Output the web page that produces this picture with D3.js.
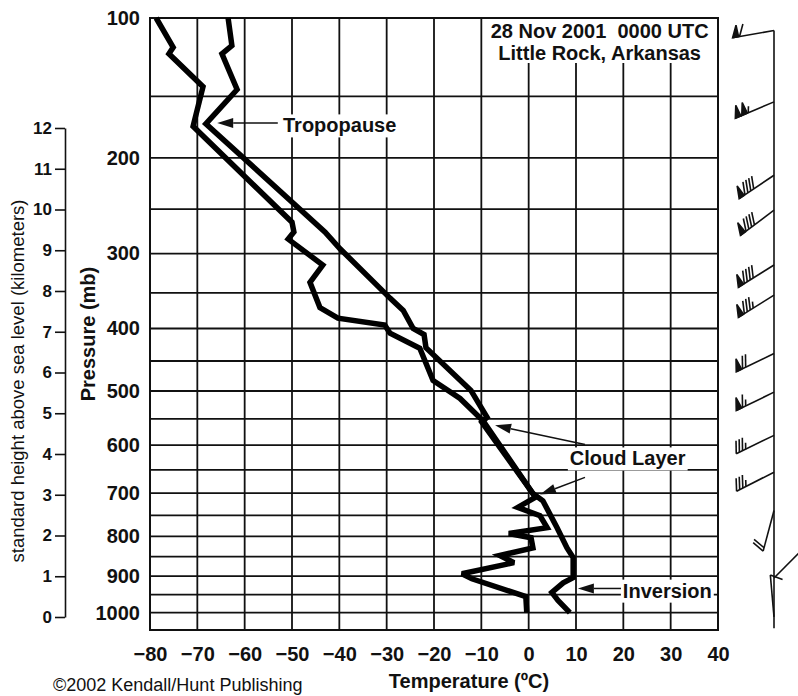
<!DOCTYPE html>
<html>
<head>
<meta charset="utf-8">
<script src="https://cdnjs.cloudflare.com/ajax/libs/d3/7.8.5/d3.min.js"></script>
<style>
  body { margin: 0; background: #fff; }
  svg { display: block; font-family: "Liberation Sans", Arial, Helvetica, sans-serif; }
</style>
</head>
<body>
<svg id="chart" width="798" height="696"></svg>
<script>
// Sounding, Little Rock 28 Nov 2001 00 UTC
const tempP = [100, 116, 121, 145, 171, 275, 294, 357, 374, 400, 409, 429, 499, 547, 556, 701, 717, 779, 828, 852, 904, 918, 944, 966, 1000];
const tempT = [-63.5, -62.7, -64.8, -61.6, -68.2, -43.0, -39.9, -29.3, -26.5, -24.4, -22.1, -21.7, -12.2, -8.8, -9.9, 0.9, 3.0, 6.0, 8.1, 9.4, 9.4, 7.3, 4.9, 6.2, 8.7];

const dewP = [100, 117, 121, 143, 173, 264, 275, 283, 314, 336, 370, 385, 395, 407, 430, 482, 513, 554, 701, 710, 732, 751, 779, 793, 803, 828, 847, 865, 894, 907, 955, 1000];
const dewT = [-78.7, -75.1, -76.0, -68.8, -70.9, -50.0, -49.6, -50.8, -43.5, -46.2, -44.1, -40.3, -30.4, -29.3, -23.0, -20.2, -14.5, -9.6, 0.9, 1.3, -2.3, 2.4, 3.9, -4.2, 0.5, 0.9, -6.1, -3.1, -14.1, -12.0, -0.6, -0.4];

// wind barbs: level (mb), direction (deg), speed (kt)
const windP = [107, 154, 216, 251, 314, 353, 438, 502, 581, 655, 739, 905, 1012];
const windDir = [260, 247, 236, 233, 238, 238, 244, 244, 244, 243, 195, 45, 355];
const windSpd = [60, 105, 90, 90, 90, 85, 70, 65, 35, 35, 20, 10, 10];

// axes
const pressureLabels = [100, 200, 300, 400, 500, 600, 700, 800, 900, 1000];
const pressureGrid = [150, 200, 250, 300, 350, 400, 450, 500, 550, 600, 650, 700, 750, 800, 850, 900, 950, 1000];
const tempTicks = [-80, -70, -60, -50, -40, -30, -20, -10, 0, 10, 20, 30, 40];
const heightTicks = [0, 1, 2, 3, 4, 5, 6, 7, 8, 9, 10, 11, 12];

const svg = d3.select('#chart');
const plotL = 150, plotR = 718, plotT = 18, plotB = 630;

const x = d3.scaleLinear().domain([-80, 40]).range([plotL, plotR]);
const y = d3.scalePow().exponent(0.286).domain([100, 1050]).range([plotT, plotB]);
const h = d3.scaleLinear().domain([0, 12]).range([617, 128]);

const ink = '#111';

// grid
const grid = svg.append('g').attr('stroke', ink).attr('stroke-width', 1.8);
grid.selectAll('.hl').data(pressureGrid).enter().append('line')
    .attr('x1', plotL).attr('x2', plotR)
    .attr('y1', d => y(d)).attr('y2', d => y(d));
grid.selectAll('.vl').data(tempTicks.slice(1, -1)).enter().append('line')
    .attr('x1', d => x(d)).attr('x2', d => x(d))
    .attr('y1', plotT).attr('y2', plotB);
svg.append('rect')
    .attr('x', plotL).attr('y', plotT)
    .attr('width', plotR - plotL).attr('height', plotB - plotT)
    .attr('fill', 'none').attr('stroke', ink).attr('stroke-width', 2);

// pressure labels
const pAxis = d3.axisLeft(y).tickValues(pressureLabels).tickSize(0).tickPadding(10).tickFormat(d3.format('d'));
svg.append('g').attr('transform', `translate(${plotL},0)`).call(pAxis)
    .call(g => g.select('.domain').remove())
    .selectAll('text').attr('font-size', 20).attr('font-weight', 'bold').attr('fill', ink)
    .attr('font-family', '"Liberation Sans", Arial, sans-serif');

// temperature labels
const tAxis = d3.axisBottom(x).tickValues(tempTicks).tickSize(0).tickPadding(17);
svg.append('g').attr('transform', `translate(0,${plotB})`).call(tAxis)
    .call(g => g.select('.domain').remove())
    .selectAll('text').attr('font-size', 20).attr('font-weight', 'bold').attr('fill', ink)
    .attr('font-family', '"Liberation Sans", Arial, sans-serif');

// height axis
const hAxis = d3.axisLeft(h).tickValues(heightTicks).tickSize(10).tickSizeOuter(0).tickPadding(3);
const hg = svg.append('g').attr('transform', 'translate(65,0)').call(hAxis);
hg.selectAll('path, line').attr('stroke', ink).attr('stroke-width', 1.6);
hg.selectAll('text').attr('font-size', 17).attr('font-weight', 'bold').attr('fill', ink)
    .attr('font-family', '"Liberation Sans", Arial, sans-serif');

// axis titles
svg.append('text')
    .attr('transform', 'translate(24,381) rotate(-90)')
    .attr('text-anchor', 'middle').attr('font-size', 18.5).attr('fill', ink)
    .text('standard height above sea level (kilometers)');
svg.append('text')
    .attr('transform', 'translate(95,334) rotate(-90)')
    .attr('text-anchor', 'middle').attr('font-size', 20).attr('font-weight', 'bold').attr('fill', ink)
    .text('Pressure (mb)');
svg.append('text')
    .attr('x', 469).attr('y', 688)
    .attr('text-anchor', 'middle').attr('font-size', 20).attr('font-weight', 'bold').attr('fill', ink)
    .text('Temperature (ºC)');
svg.append('text')
    .attr('x', 53).attr('y', 691)
    .attr('font-size', 18).attr('fill', ink)
    .text('©2002 Kendall/Hunt Publishing');

// label with white box behind it
function label(txt, tx, ty, anchor, pad) {
    const t = svg.append('text')
        .attr('x', tx).attr('y', ty)
        .attr('text-anchor', anchor || 'start')
        .attr('font-size', 20).attr('font-weight', 'bold').attr('fill', ink)
        .style('white-space', 'pre')
        .text(txt);
    const b = t.node().getBBox();
    const p = pad == null ? 2 : pad;
    svg.insert('rect', () => t.node())
        .attr('x', b.x - p).attr('y', b.y - p + 2)
        .attr('width', b.width + 2 * p).attr('height', b.height + 2 * p - 3)
        .attr('fill', '#fff');
    return t;
}

// title box
svg.append('rect')
    .attr('x', x(-10) + 2).attr('y', plotT + 1)
    .attr('width', plotR - x(-10) - 3).attr('height', 44)
    .attr('fill', '#fff');
svg.append('text').attr('x', x(15)).attr('y', 38)
    .attr('text-anchor', 'middle').attr('font-size', 20).attr('font-weight', 'bold').attr('fill', ink)
    .style('white-space', 'pre')
    .text('28 Nov 2001  0000 UTC');
svg.append('text').attr('x', x(15)).attr('y', 60)
    .attr('text-anchor', 'middle').attr('font-size', 20).attr('font-weight', 'bold').attr('fill', ink)
    .text('Little Rock, Arkansas');

label('Tropopause', x(-51.9), y(178));
label('Cloud Layer', x(8.7), y(641));
label('Inversion', x(19.9), y(958));

// profiles
const line = d3.line().x(d => x(d[1])).y(d => y(d[0]));
[d3.zip(dewP, dewT), d3.zip(tempP, tempT)].forEach(pts => {
    svg.append('path')
        .attr('d', line(pts))
        .attr('fill', 'none').attr('stroke', '#000')
        .attr('stroke-width', 5.5)
        .attr('stroke-linejoin', 'miter').attr('stroke-miterlimit', 3);
});

// arrows
function arrow(t0, p0, t1, p1) {
    const sx = x(t0), sy = y(p0), tx = x(t1), ty = y(p1);
    const len = Math.hypot(tx - sx, ty - sy);
    const ux = (tx - sx) / len, uy = (ty - sy) / len;
    const bx = tx - ux * 16, by = ty - uy * 16;
    svg.append('line').attr('x1', sx).attr('y1', sy).attr('x2', bx).attr('y2', by)
        .attr('stroke', ink).attr('stroke-width', 1.5);
    svg.append('path')
        .attr('d', `M${tx},${ty}L${bx - uy * 5},${by + ux * 5}L${bx + uy * 5},${by - ux * 5}Z`)
        .attr('fill', ink);
}
arrow(-53.0, 170.4, -65.8, 170.4);
arrow(11.9, 599, -7.1, 562);
arrow(11.9, 666, 2.4, 703);
arrow(19.5, 933, 10.4, 933);

// wind barbs
const staffX = 774;
svg.append('line')
    .attr('x1', staffX).attr('x2', staffX)
    .attr('y1', y(windP[0])).attr('y2', y(1045))
    .attr('stroke', ink).attr('stroke-width', 1.6);

const barbs = svg.append('g').attr('stroke', ink).attr('stroke-width', 1.6).attr('fill', ink);
d3.zip(windP, windDir, windSpd).forEach(([p, dir, spd]) => {
    const rad = dir * Math.PI / 180;
    const ux = Math.sin(rad), uy = -Math.cos(rad);
    const nx = -uy, ny = ux;
    const L = 42;
    const x0 = staffX, y0 = y(p);
    const tx = x0 + ux * L, ty = y0 + uy * L;
    barbs.append('line').attr('x1', x0).attr('y1', y0).attr('x2', tx).attr('y2', ty);
    const at = s => [tx - ux * s, ty - uy * s];
    let s = 0, rest = Math.round(spd / 5) * 5;
    // feathers lean back toward the staff
    const flen = 13, lean = 65 * Math.PI / 180;
    const fx = nx * Math.sin(lean) - ux * Math.cos(lean);
    const fy = ny * Math.sin(lean) - uy * Math.cos(lean);
    while (rest >= 50) {
        const a = at(s), b = at(s + 6);
        barbs.append('path')
            .attr('d', `M${a[0]},${a[1]}L${a[0] + fx * flen},${a[1] + fy * flen}L${b[0]},${b[1]}Z`);
        s += 7; rest -= 50;
    }
    if (s === 0 && rest < 10) s = 4;
    while (rest >= 10) {
        const a = at(s);
        barbs.append('line').attr('x1', a[0]).attr('y1', a[1])
            .attr('x2', a[0] + fx * flen).attr('y2', a[1] + fy * flen);
        s += 3.5; rest -= 10;
    }
    if (rest >= 5) {
        const a = at(s);
        barbs.append('line').attr('x1', a[0]).attr('y1', a[1])
            .attr('x2', a[0] + fx * flen / 2).attr('y2', a[1] + fy * flen / 2);
    }
});
</script>
</body>
</html>
